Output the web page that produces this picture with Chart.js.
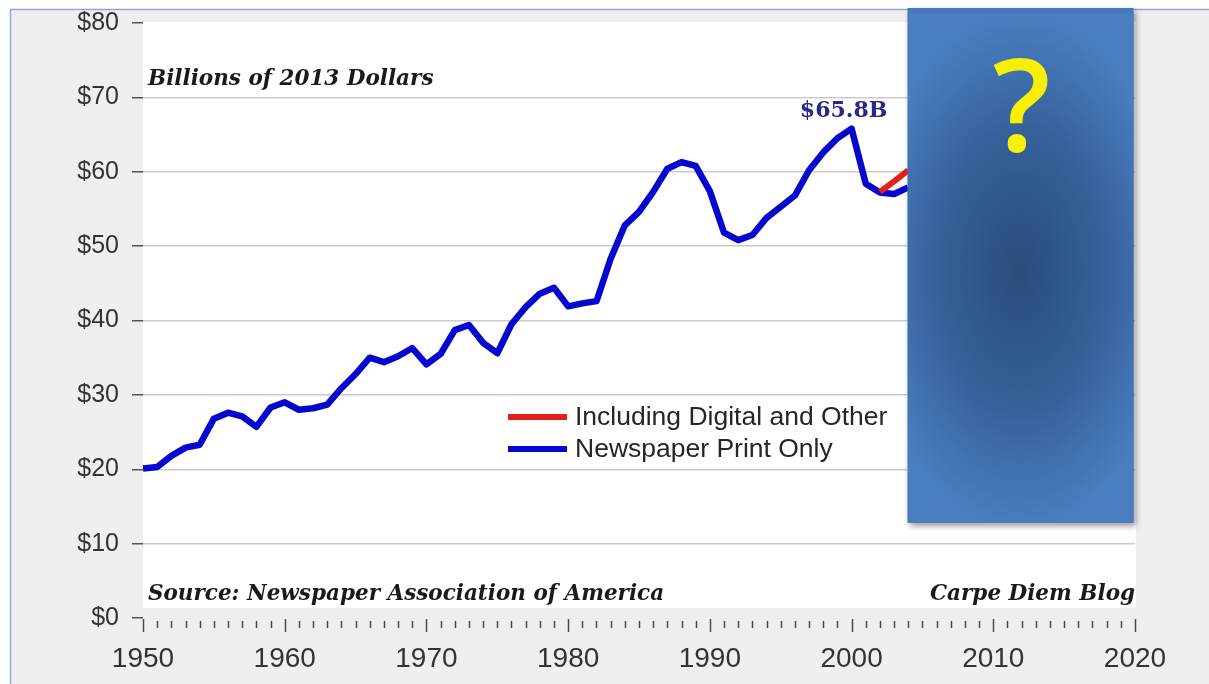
<!DOCTYPE html>
<html>
<head>
<meta charset="utf-8">
<title>Newspaper Ad Revenue</title>
<script src="https://cdn.jsdelivr.net/npm/chart.js@4.4.1/dist/chart.umd.min.js"></script>
<style>
    html, body { margin: 0; padding: 0; background: #ffffff; }
    #wrap { position: relative; width: 1209px; height: 684px; }
</style>
</head>
<body>
<div id="wrap"><canvas id="revenueChart" width="1209" height="684"></canvas></div>
<script>
// Data (billions of 2013 dollars)
const printYears = [
    1950, 1951, 1952, 1953, 1954, 1955, 1956, 1957, 1958, 1959,
    1960, 1961, 1962, 1963, 1964, 1965, 1966, 1967, 1968, 1969,
    1970, 1971, 1972, 1973, 1974, 1975, 1976, 1977, 1978, 1979,
    1980, 1981, 1982, 1983, 1984, 1985, 1986, 1987, 1988, 1989,
    1990, 1991, 1992, 1993, 1994, 1995, 1996, 1997, 1998, 1999,
    2000, 2001, 2002, 2003, 2004
];
const printOnly = [
    20.1, 20.3, 21.8, 22.9, 23.3, 26.8, 27.6, 27.1, 25.7, 28.3,
    29.0, 28.0, 28.2, 28.7, 30.9, 32.8, 35.0, 34.4, 35.2, 36.3,
    34.1, 35.5, 38.7, 39.4, 37.0, 35.6, 39.5, 41.8, 43.6, 44.4,
    41.9, 42.3, 42.6, 48.3, 52.8, 54.6, 57.3, 60.4, 61.3, 60.8,
    57.4, 51.8, 50.8, 51.5, 53.8, 55.3, 56.8, 60.2, 62.6, 64.5,
    65.8, 58.4, 57.2, 57.0, 57.9
];
const digitalYears = [2002, 2003, 2004];
const digitalAndOther = [57.3, 58.7, 60.2];

const seriesLabels = ['Including Digital and Other', 'Newspaper Print Only'];
const seriesColors = ['#e3211b', '#0606cf'];
const yTickValues = [0, 10, 20, 30, 40, 50, 60, 70, 80];
const decadeLabels = [1950, 1960, 1970, 1980, 1990, 2000, 2010, 2020];

const PEAK_YEAR = 2000;
const PEAK_VALUE = 65.8;

const SERIF = '"DejaVu Serif", "Liberation Serif", serif';
const SANS = '"Liberation Sans", Arial, sans-serif';

// Frame and white plot panel
const backgroundPlugin = {
    id: 'background',
    beforeDraw(chart) {
        const { ctx, width, height, chartArea } = chart;
        ctx.save();
        ctx.fillStyle = '#ffffff';
        ctx.fillRect(0, 0, width, height);
        ctx.fillStyle = '#efefef';
        ctx.fillRect(10, 9, width - 10, height - 9);
        ctx.strokeStyle = '#8fa9cf';
        ctx.lineWidth = 1.5;
        ctx.beginPath();
        ctx.moveTo(10.5, height);
        ctx.lineTo(10.5, 9.5);
        ctx.lineTo(width, 9.5);
        ctx.stroke();
        ctx.fillStyle = '#ffffff';
        ctx.fillRect(chartArea.left, chartArea.top - 1,
            chartArea.right - chartArea.left + 1, chartArea.bottom - chartArea.top - 9);
        ctx.restore();
    }
};

// Yearly tick marks below the axis, longer at each decade
const yearTicksPlugin = {
    id: 'yearTicks',
    afterDatasetsDraw(chart) {
        const { ctx, chartArea, scales } = chart;
        const xs = scales.x;
        ctx.save();
        ctx.strokeStyle = '#4a4a4a';
        ctx.lineWidth = 1.5;
        for (let yr = xs.min; yr <= xs.max; yr++) {
            const x = Math.round(xs.getPixelForValue(yr)) + 0.5;
            const major = yr % 10 === 0;
            ctx.beginPath();
            ctx.moveTo(x, chartArea.bottom + (major ? 1 : 3));
            ctx.lineTo(x, chartArea.bottom + (major ? 14 : 10));
            ctx.stroke();
        }
        ctx.restore();
    }
};

// Notes, legend and the covering box
const overlayPlugin = {
    id: 'overlay',
    afterDraw(chart) {
        const { ctx, chartArea, scales } = chart;
        const xs = scales.x, ys = scales.y;
        ctx.save();

        // text notes
        ctx.fillStyle = '#1a1a1a';
        ctx.textBaseline = 'middle';
        ctx.font = `italic bold 21.5px ${SERIF}`;
        ctx.textAlign = 'left';
        ctx.fillText('Billions of 2013 Dollars', chartArea.left + 5, 79);
        ctx.fillText('Source: Newspaper Association of America', chartArea.left + 5, 594);
        ctx.textAlign = 'right';
        ctx.fillText('Carpe Diem Blog', chartArea.right, 594);

        ctx.fillStyle = '#28288c';
        ctx.textAlign = 'center';
        ctx.font = `bold 22px ${SERIF}`;
        ctx.fillText('$65.8B', xs.getPixelForValue(PEAK_YEAR) - 8, ys.getPixelForValue(PEAK_VALUE) - 17);

        // legend
        const legendX = 508, legendY = 417, rowGap = 32;
        chart.data.datasets.forEach((ds, i) => {
            const y = legendY + i * rowGap;
            ctx.strokeStyle = ds.borderColor;
            ctx.lineWidth = 6;
            ctx.beginPath();
            ctx.moveTo(legendX, y);
            ctx.lineTo(legendX + 59, y);
            ctx.stroke();
            ctx.fillStyle = '#262626';
            ctx.textAlign = 'left';
            ctx.font = `26.5px ${SANS}`;
            ctx.fillText(ds.label, legendX + 67, y + 1);
        });

        // covering box with question mark
        const bx = xs.getPixelForValue(2003.95);
        const bw = xs.getPixelForValue(2019.9) - bx;
        const by = 8;
        const bh = ys.getPixelForValue(12.8) - by;
        ctx.save();
        ctx.shadowColor = 'rgba(0,0,0,0.4)';
        ctx.shadowBlur = 6;
        ctx.shadowOffsetX = 2;
        ctx.shadowOffsetY = 3;
        ctx.fillStyle = '#4679ba';
        ctx.fillRect(bx, by, bw, bh);
        ctx.restore();

        const cx = bx + bw / 2, cy = by + bh * 0.51;
        ctx.save();
        ctx.beginPath();
        ctx.rect(bx, by, bw, bh);
        ctx.clip();
        ctx.translate(cx, cy);
        ctx.scale(1, 1.65);
        const grad = ctx.createRadialGradient(0, 0, 0, 0, 0, bh / 2 / 1.65);
        grad.addColorStop(0, '#2a4c7a');
        grad.addColorStop(0.55, '#35629b');
        grad.addColorStop(1, '#4a7ec1');
        ctx.fillStyle = grad;
        ctx.fillRect(-bw / 2, -bh / 2 / 1.65, bw, bh / 1.65);
        ctx.restore();

        ctx.fillStyle = '#f7ef05';
        ctx.textAlign = 'center';
        ctx.textBaseline = 'alphabetic';
        ctx.font = `600 128px "Open Sans", "Noto Sans", sans-serif`;
        ctx.fillText('?', cx + 1, 151);

        ctx.restore();
    }
};

const ctx = document.getElementById('revenueChart');

new Chart(ctx, {
    type: 'line',
    data: {
        datasets: [
            {
                label: seriesLabels[0],
                data: digitalYears.map((yr, i) => ({ x: yr, y: digitalAndOther[i] })),
                borderColor: seriesColors[0],
                borderWidth: 6,
                pointRadius: 0,
                tension: 0,
                borderJoinStyle: 'round',
                fill: false
            },
            {
                label: seriesLabels[1],
                data: printYears.map((yr, i) => ({ x: yr, y: printOnly[i] })),
                borderColor: seriesColors[1],
                borderWidth: 6.5,
                pointRadius: 0,
                tension: 0,
                borderJoinStyle: 'round',
                fill: false
            }
        ]
    },
    options: {
        responsive: false,
        animation: false,
        devicePixelRatio: 1,
        layout: {
            padding: { left: 0, top: 23, right: 74, bottom: 0 }
        },
        plugins: {
            legend: { display: false },
            tooltip: { enabled: false }
        },
        scales: {
            x: {
                type: 'linear',
                min: 1950,
                max: 2020,
                afterBuildTicks: (scale) => {
                    scale.ticks = decadeLabels.map(v => ({ value: v }));
                },
                afterFit: (scale) => {
                    scale.height = 66;
                    scale.paddingLeft = 0;
                    scale.paddingRight = 0;
                },
                border: { display: false },
                grid: { display: false, drawTicks: false },
                ticks: {
                    autoSkip: false,
                    maxRotation: 0,
                    padding: 24,
                    color: '#333333',
                    font: { family: SANS, size: 28 },
                    callback: (v) => String(v)
                }
            },
            y: {
                min: 0,
                max: 80,
                afterBuildTicks: (scale) => {
                    scale.ticks = yTickValues.map(v => ({ value: v }));
                },
                afterFit: (scale) => {
                    scale.width = 143;
                    scale.paddingTop = 0;
                    scale.paddingBottom = 0;
                },
                border: { display: false },
                grid: {
                    color: (c) => (c.tick && (c.tick.value === 0 || c.tick.value === 80)) ? 'rgba(0,0,0,0)' : '#cbcbcb',
                    tickColor: '#555555',
                    tickLength: 11,
                    lineWidth: 1.5
                },
                ticks: {
                    padding: 13,
                    color: '#333333',
                    font: { family: SANS, size: 25 },
                    callback: (v) => '$' + v
                }
            }
        }
    },
    plugins: [backgroundPlugin, yearTicksPlugin, overlayPlugin]
});
</script>
</body>
</html>
